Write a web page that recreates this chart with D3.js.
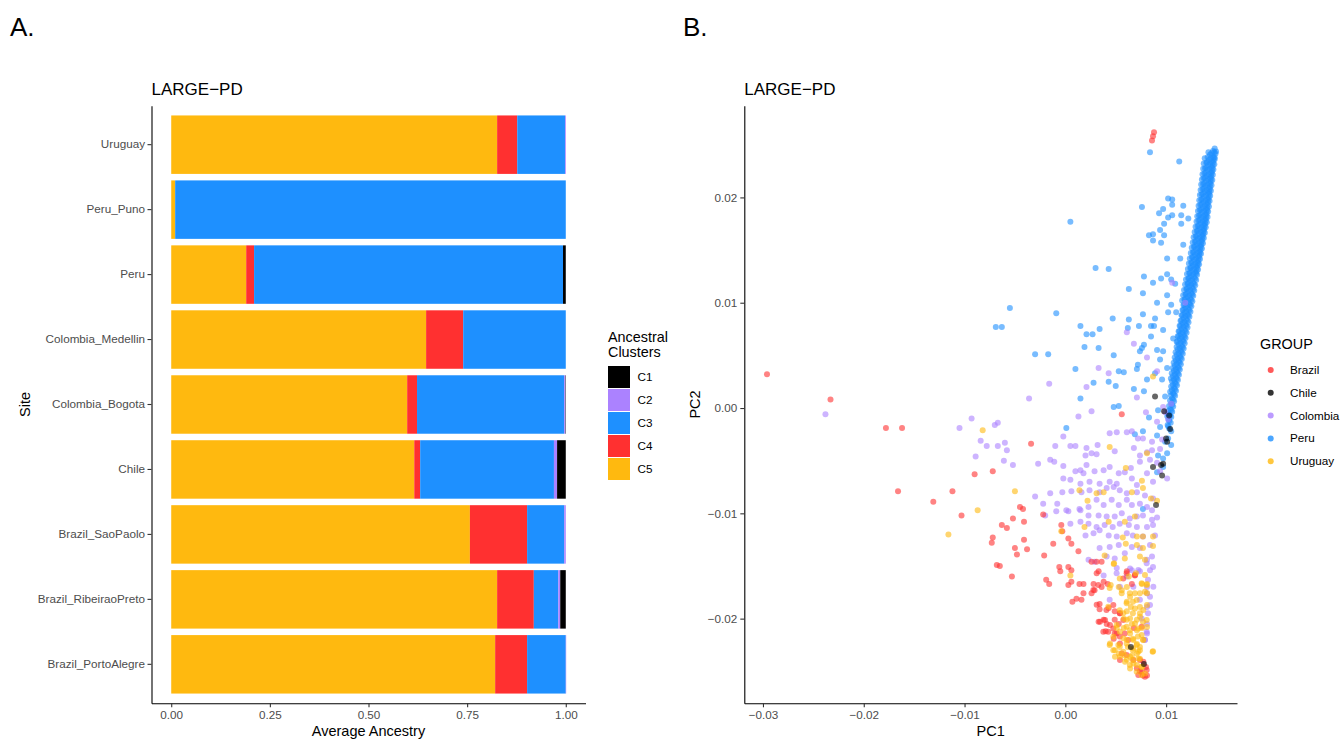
<!DOCTYPE html>
<html>
<head>
<meta charset="utf-8">
<script src="https://cdn.jsdelivr.net/npm/d3@7"></script>
<style>
  body { margin: 0; background: #fff; }
  text { font-family: "Liberation Sans", Arial, Helvetica, sans-serif; }
</style>
</head>
<body>
<script>
// ---- panel A data: average ancestry per site ----
const sites = ["Uruguay", "Peru_Puno", "Peru", "Colombia_Medellin", "Colombia_Bogota",
  "Chile", "Brazil_SaoPaolo", "Brazil_RibeiraoPreto", "Brazil_PortoAlegre"];
const clusterKeys = ["C1", "C2", "C3", "C4", "C5"];
const clusterColors = ["#000000", "#AB82FF", "#1E90FF", "#FF3030", "#FFB90F"];
const c1 = [0, 0, 0.007, 0, 0.001, 0.022, 0, 0.014, 0];
const c2 = [0.002, 0, 0, 0, 0.003, 0.008, 0.004, 0.005, 0.001];
const c3 = [0.121, 0.99, 0.783, 0.26, 0.373, 0.339, 0.094, 0.062, 0.098];
const c4 = [0.051, 0, 0.02, 0.094, 0.025, 0.015, 0.145, 0.093, 0.081];
const c5 = [0.826, 0.01, 0.19, 0.646, 0.598, 0.616, 0.757, 0.826, 0.821];
const ancestryTicks = [0, 0.25, 0.5, 0.75, 1];

// ---- panel B data: PCA coordinates ----
const groups = ["Brazil", "Chile", "Colombia", "Peru", "Uruguay"];
const groupColors = ["#FF3030", "#000000", "#AB82FF", "#1E90FF", "#FFB90F"];
const pc1Ticks = [-0.03, -0.02, -0.01, 0, 0.01];
const pc2Ticks = [-0.02, -0.01, 0, 0.01, 0.02];
const pc1Range = [-0.02963, 0.01481];
const pc2Range = [-0.02546, 0.02613];

const brazil = [[-0.0296,0.0032],[-0.0233,0.0008],[-0.0178,-0.0019],[-0.0162,-0.0019],[-0.0166,-0.0079],[-0.0131,-0.0089],
[-0.0112,-0.0079],[-0.0103,-0.0102],[-0.0090,-0.0063],[-0.0072,-0.0060],[-0.0072,-0.0123],[-0.0073,-0.0128],[-0.0063,-0.0111],
[-0.0058,-0.0114],[-0.0068,-0.0149],[-0.0065,-0.0150],[0.0088,0.0262],[0.0086,0.0254],[0.0087,0.0258],[0.0056,-0.0006],
[-0.0034,-0.0034],[-0.0045,-0.0094],[-0.0042,-0.0096],[-0.0052,-0.0105],[-0.0041,-0.0108],[-0.0022,-0.0101],[-0.0004,-0.0111],
[-0.0003,-0.0117],[0.0003,-0.0124],[0.0006,-0.0129],[-0.0012,-0.0129],[0.0013,-0.0136],[-0.0041,-0.0125],[-0.0050,-0.0133],
[-0.0048,-0.0139],[-0.0038,-0.0134],[-0.0021,-0.0140],[-0.0006,-0.0151],[0.0003,-0.0151],[-0.0005,-0.0155],[0.0006,-0.0154],
[-0.0019,-0.0163],[-0.0016,-0.0167],[-0.0053,-0.0160],[0.0003,-0.0168],[0.0006,-0.0165],[0.0014,-0.0167],[0.0018,-0.0167],
[0.0026,-0.0146],[0.0031,-0.0146],[0.0033,-0.0155],[0.0038,-0.0165],[0.0028,-0.0167],[0.0029,-0.0173],[0.0036,-0.0170],
[0.0042,-0.0167],[0.0026,-0.0176],[0.0018,-0.0176],[0.0011,-0.0181],[0.0007,-0.0184],[0.0016,-0.0182],[0.0034,-0.0186],
[0.0043,-0.0190],[0.0049,-0.0193],[0.0054,-0.0195],[0.0033,-0.0203],[0.0038,-0.0201],[0.0041,-0.0205],[0.0040,-0.0212],
[0.0049,-0.0201],[0.0049,-0.0214],[0.0054,-0.0217],[0.0048,-0.0219],[0.0059,-0.0214],[0.0069,-0.0159],[0.0066,-0.0167],
[0.0061,-0.0155],[0.0068,-0.0209],[0.0080,-0.0246],[0.0077,-0.0254],[0.0074,-0.0250],[0.0081,-0.0254],[0.0071,-0.0247],
[0.0053,-0.0205],[0.0034,-0.0191],[0.0056,-0.0233],
[.00311,-.01570],[.00327,-.01681],[.00278,-.01728],[.00311,-.01868],[.00408,-.01919],[.00476,-.01871],[.00542,-.01950],
[.00344,-.02029],[.00394,-.02014],[.00443,-.02061],[.00377,-.02124],[.00426,-.02124],[.00476,-.02093],[.00509,-.02140],
[.00575,-.02014],[.00625,-.02203],[.00542,-.02235],[.00542,-.02393],[.00608,-.02346],[.00741,-.02393],[.00774,-.02409],
[.00807,-.02488],[.00757,-.02504],[.00790,-.02552],[.00724,-.02536],[.00675,-.02393],[.00360,-.01460],[.00608,-.01570],
[.00691,-.01586],[.00575,-.01618],[.00757,-.02077]];

const chile = [[0.0089,0.0011],[0.0098,-0.0003],[0.0103,-0.0007],[0.0104,-0.0020],[0.0100,-0.0029],[0.0101,-0.0032],
[0.0095,-0.0054],[0.0096,-0.0064],[0.0087,-0.0056],[0.0090,-0.0092],[0.0065,-0.0227],[0.0078,-0.0243],[0.0097,-0.0053]];

const colombia = [[-0.0238,-0.0006],[-0.0105,-0.0019],[-0.0093,-0.0010],[-0.0070,-0.0016],[-0.0067,-0.0014],[-0.0084,-0.0031],
[-0.0078,-0.0036],[-0.0067,-0.0036],[-0.0060,-0.0033],[-0.0058,-0.0040],[-0.0089,-0.0046],[-0.0061,-0.0050],
[0.0061,0.0072],[0.0068,0.0061],[0.0081,0.0048],[0.0033,0.0038],[0.0091,0.0035],[0.0043,0.0033],[0.0021,0.0020],
[-0.0016,0.0023],[-0.0036,0.0009],[0.0071,0.0010],[0.0080,-0.0004],[0.0013,-0.0008],[0.0026,-0.0003],[-0.0002,-0.0027],
[0.0044,-0.0024],[0.0051,-0.0023],[0.0061,-0.0023],[0.0066,-0.0022],[-0.0010,-0.0036],[0.0005,-0.0036],[0.0010,-0.0036],
[0.0021,-0.0038],[0.0032,-0.0035],[0.0072,-0.0029],[0.0068,-0.0038],[0.0077,-0.0029],[0.0086,-0.0032],[0.0096,-0.0030],
[0.0020,-0.0045],[0.0026,-0.0043],[0.0031,-0.0044],[0.0074,-0.0045],[0.0091,-0.0013],[0.0099,-0.0004],[0.0105,0.0004],
[0.0102,-0.0011],[0.0097,0.0001],[0.0106,0.0119],[0.0119,0.0100],[0.0049,-0.0041],[0.0081,-0.0042],[0.0086,-0.0040],
[0.0094,-0.0039],[-0.0052,-0.0054],[-0.0027,-0.0053],[-0.0015,-0.0049],[-0.0011,-0.0051],[-0.0002,-0.0055],[0.0010,-0.0060],
[0.0015,-0.0059],[0.0018,-0.0062],[0.0021,-0.0054],[0.0029,-0.0060],[0.0038,-0.0059],[0.0044,-0.0056],[0.0053,-0.0062],
[0.0059,-0.0061],[0.0065,-0.0057],[0.0074,-0.0051],[0.0084,-0.0049],[0.0091,-0.0052],[0.0094,-0.0060],[0.0101,-0.0067],
[-0.0002,-0.0067],[0.0005,-0.0068],[0.0015,-0.0072],[0.0024,-0.0070],[0.0034,-0.0072],[0.0044,-0.0070],[0.0051,-0.0072],
[0.0066,-0.0067],[0.0071,-0.0073],[0.0081,-0.0062],[0.0087,-0.0070],[-0.0030,-0.0084],[-0.0015,-0.0081],[-0.0003,-0.0080],
[0.0006,-0.0079],[0.0016,-0.0080],[0.0024,-0.0078],[0.0034,-0.0080],[0.0041,-0.0076],[0.0048,-0.0075],[0.0054,-0.0078],
[0.0061,-0.0081],[0.0071,-0.0080],[0.0079,-0.0083],[0.0087,-0.0086],[-0.0022,-0.0091],[-0.0008,-0.0091],[0.0001,-0.0097],
[0.0015,-0.0097],[0.0023,-0.0094],[0.0031,-0.0087],[0.0038,-0.0092],[0.0046,-0.0087],[0.0053,-0.0092],[0.0061,-0.0087],
[0.0066,-0.0092],[0.0074,-0.0091],[0.0081,-0.0094],[0.0086,-0.0097],[-0.0020,-0.0102],[-0.0009,-0.0098],[0.0003,-0.0098],
[0.0014,-0.0096],[0.0023,-0.0102],[0.0033,-0.0102],[0.0041,-0.0103],[0.0049,-0.0103],[0.0056,-0.0100],[0.0064,-0.0105],
[0.0071,-0.0103],[0.0077,-0.0102],[0.0086,-0.0106],[0.0091,-0.0104],[0.0005,-0.0110],[0.0015,-0.0108],[0.0023,-0.0110],
[0.0031,-0.0113],[0.0039,-0.0111],[0.0047,-0.0113],[0.0054,-0.0110],[0.0063,-0.0111],[0.0071,-0.0113],[0.0081,-0.0113],
[0.0087,-0.0111],[0.0020,-0.0121],[0.0028,-0.0119],[0.0034,-0.0116],[0.0043,-0.0121],[0.0051,-0.0122],[0.0061,-0.0119],
[0.0067,-0.0121],[0.0077,-0.0122],[0.0089,-0.0121],[0.0034,-0.0133],[0.0044,-0.0132],[0.0053,-0.0130],[0.0066,-0.0132],
[0.0074,-0.0133],[0.0084,-0.0130],[0.0081,-0.0144],[0.0086,-0.0141],[0.0087,-0.0151],[0.0023,-0.0144],[0.0029,-0.0146],
[0.0041,-0.0141],[0.0059,-0.0138],[0.0049,-0.0143],[0.0066,-0.0154],[0.0074,-0.0155],[0.0084,-0.0154],[0.0038,-0.0159],
[0.0051,-0.0152],[0.0082,-0.0163],[0.0081,-0.0170],[0.0081,-0.0176],[0.0074,-0.0182],[0.0044,-0.0182],[0.0061,-0.0160],
[0.0081,-0.0214],[0.0081,-0.0205],[0.0082,-0.0195],[0.0081,-0.0189],[0.0079,-0.0220],
[.00873,-.01697],[.00840,-.01792],[.00840,-.01871],[.00807,-.02124],[.00790,-.02203],[.00724,-.01539],[.00642,-.01523],
[.00807,-.01475],[.00509,-.01570],[.00542,-.01697],[.00675,-.01697],[.00757,-.01998]];

const peru = [[-0.0069,0.0077],[-0.0063,0.0077],[-0.0055,0.0095],[0.0084,0.0243],[0.0113,0.0234],[0.0076,0.0191],
[0.0102,0.0199],[0.0106,0.0198],[0.0106,0.0193],[0.0117,0.0192],[0.0097,0.0189],[0.0093,0.0185],[0.0102,0.0181],
[0.0106,0.0183],[0.0115,0.0183],[0.0122,0.0180],[0.0098,0.0175],[0.0115,0.0175],[0.0094,0.0169],[0.0083,0.0164],
[0.0087,0.0165],[0.0098,0.0164],[0.0087,0.0159],[0.0095,0.0157],[0.0117,0.0155],[0.0101,0.0142],[0.0114,0.0142],
[0.0005,0.0177],[0.0030,0.0133],[0.0043,0.0132],[0.0078,0.0125],[0.0087,0.0119],[0.0095,0.0123],[0.0101,0.0127],
[0.0105,0.0122],[0.0109,0.0118],[0.0063,0.0113],[0.0077,0.0109],[0.0091,0.0100],[0.0101,0.0107],[0.0105,0.0098],
[0.0102,0.0091],[0.0110,0.0091],[-0.0009,0.0090],[0.0047,0.0085],[0.0063,0.0084],[0.0077,0.0089],[0.0089,0.0085],
[0.0085,0.0078],[0.0073,0.0078],[0.0062,0.0076],[0.0015,0.0078],[0.0021,0.0070],[0.0027,0.0070],[0.0034,0.0075],
[0.0097,0.0074],[0.0107,0.0066],[0.0088,0.0078],[0.0085,0.0068],[0.0078,0.0060],[0.0076,0.0057],[0.0074,0.0054],
[0.0091,0.0055],[0.0097,0.0054],[0.0019,0.0058],[0.0033,0.0057],[0.0048,0.0050],[0.0094,0.0046],[-0.0030,0.0051],
[-0.0017,0.0051],[0.0010,0.0037],[0.0053,0.0035],[0.0058,0.0034],[0.0071,0.0037],[0.0072,0.0041],[0.0089,0.0033],
[0.0101,0.0038],[0.0096,0.0027],[0.0043,0.0025],[0.0050,0.0021],[0.0081,0.0027],[0.0068,0.0018],[0.0028,0.0024],
[0.0015,0.0009],[0.0048,0.0001],[0.0053,0.0002],[0.0099,0.0011],[0.0078,0.0016],[0.0001,-0.0019],[0.0069,-0.0025],
[0.0083,-0.0009],[0.0092,-0.0002],[0.0091,-0.0026],[0.0102,-0.0006],[0.0105,-0.0035],[0.0101,-0.0043],[0.0092,-0.0045],
[0.0077,-0.0022],[0.0094,-0.0018],[0.0099,-0.0032],[0.0102,-0.0029],[0.0105,-0.0022],[0.0097,-0.0056],[0.0091,-0.0061],
[0.0077,-0.0096],[0.0097,-0.0048],
// dense ridge
[.01482,.02465],[.01465,.02440],[.01495,.02435],[.01490,.02415],[.01462,.02390],[.01435,.02405],[.01480,.02380],
[.01483,.02365],[.01452,.02340],[.01423,.02355],[.01398,.02330],[.01470,.02350],[.01478,.02315],[.01448,.02292],
[.01417,.02305],[.01386,.02278],[.01462,.02300],[.01469,.02265],[.01441,.02240],[.01408,.02257],[.01379,.02230],
[.01456,.02248],[.01463,.02215],[.01434,.02188],[.01402,.02205],[.01372,.02182],[.01447,.02200],[.01458,.02165],
[.01426,.02140],[.01396,.02157],[.01366,.02128],[.01442,.02150],[.01450,.02115],[.01421,.02092],[.01388,.02105],
[.01360,.02081],[.01435,.02099],[.01444,.02064],[.01413,.02041],[.01383,.02056],[.01352,.02030],[.01428,.02051],
[.01437,.02015],[.01408,.01988],[.01375,.02006],[.01347,.01979],[.01423,.02000],[.01431,.01966],[.01400,.01941],
[.01369,.01954],[.01339,.01931],[.01415,.01949],[.01425,.01914],[.01394,.01892],[.01364,.01905],[.01333,.01880],
[.01408,.01899],[.01417,.01866],[.01388,.01840],[.01355,.01856],[.01326,.01829],[.01402,.01850],[.01411,.01814],
[.01380,.01791],[.01349,.01806],[.01320,.01781],[.01395,.01800],[.01403,.01765],[.01371,.01741],[.01342,.01754],
[.01312,.01729],[.01386,.01751],[.01393,.01716],[.01364,.01690],[.01331,.01706],[.01304,.01681],[.01377,.01700],
[.01384,.01664],[.01353,.01641],[.01323,.01655],[.01293,.01631],[.01368,.01651],[.01374,.01615],[.01345,.01589],
[.01314,.01606],[.01285,.01579],[.01359,.01600],[.01365,.01565],[.01334,.01541],[.01304,.01554],[.01275,.01531],
[.01349,.01550],[.01355,.01516],[.01326,.01489],[.01295,.01506],[.01266,.01480],[.01340,.01500],[.01346,.01465],
[.01315,.01441],[.01286,.01454],[.01256,.01431],[.01330,.01451],[.01336,.01415],[.01307,.01390],[.01276,.01406],
[.01248,.01379],[.01321,.01400],[.01327,.01366],[.01296,.01341],[.01266,.01354],[.01239,.01330],[.01311,.01350],
[.01317,.01315],[.01288,.01289],[.01257,.01306],[.01229,.01281],[.01302,.01300],[.01307,.01265],[.01277,.01241],
[.01247,.01254],[.01219,.01229],[.01298,.01216],[.01268,.01190],[.01238,.01206],[.01211,.01180],[.01289,.01165],
[.01258,.01141],[.01228,.01154],[.01200,.01131],[.01279,.01115],[.01250,.01090],[.01219,.01106],[.01191,.01079],
[.01269,.01066],[.01239,.01040],[.01210,.01054],[.01181,.01031],[.01260,.01015],[.01231,.00991],[.01200,.01005],
[.01172,.00979],[.01250,.00966],[.01220,.00940],[.01191,.00954],[.01162,.00931],[.01241,.00915],[.01212,.00889],
[.01181,.00905],[.01153,.00880],[.01231,.00866],[.01201,.00841],[.01172,.00854],[.01143,.00829],[.01222,.00815],
[.01193,.00790],[.01162,.00806],[.01134,.00781],[.01212,.00765],[.01182,.00741],[.01153,.00754],[.01124,.00729],
[.01203,.00716],[.01174,.00690],[.01143,.00704],[.01115,.00681],[.01193,.00665],[.01163,.00641],[.01134,.00655],
[.01105,.00630],[.01184,.00616],[.01155,.00590],[.01124,.00604],[.01174,.00565],[.01144,.00541],[.01115,.00555],
[.01165,.00516],[.01136,.00489],[.01105,.00506],[.01155,.00465],[.01125,.00441],[.01096,.00454],[.01146,.00416],
[.01117,.00390],[.01086,.00404],[.01136,.00365],[.01106,.00341],[.01077,.00354],[.01127,.00316],[.01098,.00290],
[.01067,.00304],[.01117,.00265],[.01087,.00241],[.01058,.00254],[.01108,.00216],[.01079,.00190],[.01050,.00204],
[.01098,.00165],[.01068,.00141],[.01040,.00154],[.01089,.00116],[.01059,.00090],[.01079,.00065],[.01051,.00041],
[.01070,.00015],[.01041,-.00010],[.01060,-.00035],[.01031,-.00060],[.01051,-.00085],[.01025,-.00110],[.01045,-.00140],
[.01015,-.00160],[.01030,-.00195],
[.01478,.02428],[.01449,.02420],[.01420,.02430],[.01470,.02379],[.01441,.02370],[.01412,.02382],[.01383,.02372],
[.01465,.02329],[.01434,.02320],[.01405,.02331],[.01373,.02323],[.01458,.02278],[.01429,.02271],[.01398,.02280],
[.01368,.02272],[.01451,.02229],[.01421,.02220],[.01391,.02230],[.01361,.02221],[.01445,.02178],[.01415,.02172],
[.01385,.02180],[.01355,.02171],[.01438,.02129],[.01408,.02120],[.01378,.02130],[.01348,.02122],[.01432,.02078],
[.01402,.02071],[.01372,.02080],[.01342,.02071],[.01425,.02029],[.01395,.02020],[.01365,.02030],[.01335,.02022],
[.01419,.01978],[.01389,.01971],[.01359,.01980],[.01329,.01972],[.01412,.01929],[.01382,.01920],[.01352,.01930],
[.01322,.01921],[.01406,.01878],[.01376,.01871],[.01346,.01880],[.01316,.01872],[.01399,.01829],[.01369,.01820],
[.01339,.01830],[.01309,.01821],[.01392,.01778],[.01362,.01771],[.01332,.01780],[.01302,.01772],[.01382,.01729],
[.01352,.01720],[.01322,.01730],[.01292,.01721],[.01373,.01678],[.01343,.01671],[.01313,.01680],[.01283,.01672],
[.01363,.01629],[.01333,.01620],[.01303,.01630],[.01273,.01621],[.01354,.01578],[.01324,.01571],[.01294,.01580],
[.01264,.01572],[.01344,.01529],[.01314,.01520],[.01284,.01530],[.01254,.01521],[.01335,.01478],[.01305,.01471],
[.01275,.01480],[.01245,.01472],[.01325,.01429],[.01295,.01420],[.01265,.01430],[.01235,.01421],[.01316,.01378],
[.01286,.01371],[.01256,.01380],[.01226,.01372],[.01306,.01329],[.01276,.01320],[.01246,.01330],[.01216,.01321],
[.01297,.01278],[.01267,.01271],[.01237,.01280],[.01207,.01272],[.01287,.01229],[.01257,.01220],[.01227,.01230],
[.01197,.01221],[.01278,.01178],[.01248,.01171],[.01218,.01180],[.01188,.01172],[.01268,.01129],[.01238,.01120],
[.01208,.01130],[.01178,.01121],[.01259,.01078],[.01229,.01071],[.01199,.01080],[.01169,.01072],[.01249,.01029],
[.01219,.01020],[.01189,.01030],[.01159,.01021],[.01240,.00978],[.01210,.00971],[.01180,.00980],[.01230,.00929],
[.01200,.00920],[.01170,.00930],[.01221,.00878],[.01191,.00871],[.01161,.00880],[.01211,.00829],[.01181,.00820],
[.01151,.00830],[.01202,.00778],[.01172,.00771],[.01142,.00780],[.01192,.00729],[.01162,.00720],[.01132,.00730],
[.01183,.00678],[.01153,.00671],[.01123,.00680],[.01173,.00629],[.01143,.00620],[.01113,.00630],[.01164,.00578],
[.01134,.00571],[.01104,.00580],[.01154,.00529],[.01124,.00520],[.01094,.00530],[.01145,.00478],[.01115,.00471],
[.01085,.00480],[.01135,.00429],[.01105,.00420],[.01075,.00430],[.01126,.00378],[.01096,.00371],[.01066,.00380],
[.01116,.00329],[.01086,.00320],[.01056,.00330],[.01107,.00278],[.01077,.00271],[.01047,.00280],[.01097,.00229],
[.01067,.00220],[.01088,.00178],[.01058,.00171],[.01078,.00129],[.01048,.00120],[.01069,.00078],[.01039,.00071],
[.01059,.00029],[.01029,.00020],[.01050,-.00022],[.01020,-.00029],[.01040,-.00072],[.01012,-.00079],[.01031,-.00122],
[.01021,-.00172]];

const uruguay = [[-0.0082,-0.0021],[-0.0087,-0.0097],[-0.0116,-0.0120],[0.0087,0.0030],[0.0044,-0.0037],[0.0081,-0.0043],
[0.0060,-0.0057],[-0.0050,-0.0079],[0.0014,-0.0078],[0.0022,-0.0088],[0.0038,-0.0080],[0.0031,-0.0081],[0.0066,-0.0080],
[0.0076,-0.0069],[0.0077,-0.0076],[0.0085,-0.0086],[0.0091,-0.0088],[0.0087,-0.0122],[-0.0004,-0.0117],[0.0019,-0.0113],
[0.0043,-0.0108],[0.0059,-0.0108],[0.0069,-0.0103],[0.0071,-0.0122],[0.0077,-0.0122],[0.0057,-0.0123],[0.0060,-0.0129],
[0.0071,-0.0130],[0.0077,-0.0133],[0.0087,-0.0131],[0.0039,-0.0140],[0.0048,-0.0148],[0.0059,-0.0143],[0.0074,-0.0141],
[0.0079,-0.0144],[0.0054,-0.0162],[0.0063,-0.0160],[0.0070,-0.0157],[0.0076,-0.0167],[0.0081,-0.0167],[0.0005,-0.0159],
[0.0044,-0.0171],[0.0053,-0.0170],[0.0061,-0.0170],[0.0064,-0.0176],[0.0069,-0.0176],[0.0074,-0.0176],[0.0081,-0.0176],
[0.0061,-0.0184],[0.0067,-0.0184],[0.0074,-0.0189],[0.0081,-0.0187],[0.0054,-0.0192],[0.0061,-0.0193],[0.0067,-0.0195],
[0.0074,-0.0195],[0.0061,-0.0201],[0.0066,-0.0205],[0.0071,-0.0201],[0.0077,-0.0203],[0.0051,-0.0209],[0.0058,-0.0209],
[0.0064,-0.0211],[0.0071,-0.0211],[0.0076,-0.0209],[0.0044,-0.0225],[0.0049,-0.0230],[0.0054,-0.0227],[0.0061,-0.0220],
[0.0067,-0.0219],[0.0072,-0.0217],[0.0077,-0.0220],[0.0053,-0.0233],[0.0059,-0.0235],[0.0066,-0.0235],[0.0071,-0.0233],
[0.0074,-0.0230],[0.0061,-0.0239],[0.0067,-0.0239],[0.0074,-0.0238],[0.0064,-0.0244],[0.0071,-0.0244],[0.0076,-0.0246],
[0.0087,-0.0231],[0.0071,-0.0224],[0.0074,-0.0227],[0.0056,-0.0173],[0.0065,-0.0189],[0.0058,-0.0200],[0.0067,-0.0230],
[0.0062,-0.0227],[0.0081,-0.0208],
[.00483,-.01475],[.00790,-.01586],[.00807,-.01681],[.00757,-.01665],[.00450,-.01681],[.00559,-.01760],[.00642,-.01792],
[.00708,-.01824],[.00608,-.01855],[.00691,-.01903],[.00774,-.01919],[.00575,-.01950],[.00741,-.01982],[.00642,-.01998],
[.00807,-.02014],[.00509,-.02061],[.00691,-.02045],[.00608,-.02077],[.00724,-.02093],[.00542,-.02124],[.00642,-.02140],
[.00757,-.02156],[.00476,-.02172],[.00575,-.02187],[.00675,-.02203],[.00443,-.02235],[.00526,-.02251],[.00708,-.02251],
[.00774,-.02203],[.00476,-.02299],[.00575,-.02314],[.00724,-.02314],[.00542,-.02362],[.00642,-.02362],[.00724,-.02378],
[.00592,-.02409],[.00675,-.02425],[.00757,-.02457],[.00642,-.02473],[.00708,-.02504],[.00790,-.02520],[.00757,-.02536],
[.00866,-.02314],[.00493,-.02362],[.00675,-.02283],[.00608,-.02235],[.00790,-.01744],[.00426,-.01887]];

const groupPoints = { Brazil: brazil, Chile: chile, Colombia: colombia, Peru: peru, Uruguay: uruguay };
const drawOrder = ["Peru", "Colombia", "Brazil", "Uruguay", "Chile"];

const W = 1341, H = 740;
const FONT = '"Liberation Sans", Arial, Helvetica, sans-serif';
const svg = d3.select("body").append("svg").attr("width", W).attr("height", H);
svg.append("rect").attr("width", W).attr("height", H).attr("fill", "#fff");

function styleAxis(g) {
  g.attr("font-family", FONT).attr("font-size", 11.7);
  g.select(".domain").attr("stroke", "#000").attr("stroke-width", 1.1);
  g.selectAll(".tick line").attr("stroke", "#333").attr("stroke-width", 1.1);
  g.selectAll(".tick text").attr("fill", "#4D4D4D");
}

// ================= Panel A =================
const pa = { left: 151.5, right: 585.5, top: 105.7, bottom: 703.3 };
const xA = d3.scaleLinear().domain([-0.05, 1.05]).range([pa.left, pa.right]);
const yA = d3.scaleBand().domain(sites).range([pa.top, pa.bottom]).paddingInner(0.1).paddingOuter(0.15);
const clusterColor = d3.scaleOrdinal().domain(clusterKeys).range(clusterColors);

const rows = sites.map((s, i) => ({ site: s, C1: c1[i], C2: c2[i], C3: c3[i], C4: c4[i], C5: c5[i] }));
const stacked = d3.stack().keys(["C5", "C4", "C3", "C2", "C1"])(rows);

const gA = svg.append("g");
gA.selectAll("g.layer").data(stacked).join("g")
  .attr("fill", d => clusterColor(d.key))
  .selectAll("rect").data(d => d).join("rect")
  .attr("x", d => xA(d[0]))
  .attr("width", d => Math.max(0, xA(d[1]) - xA(d[0])))
  .attr("y", d => yA(d.data.site))
  .attr("height", yA.bandwidth());

gA.append("g").attr("transform", `translate(${pa.left},0)`)
  .call(d3.axisLeft(yA).tickSize(4).tickSizeOuter(0).tickPadding(2.5))
  .call(styleAxis);
gA.append("g").attr("transform", `translate(0,${pa.bottom})`)
  .call(d3.axisBottom(xA).tickValues(ancestryTicks).tickFormat(d3.format(".2f")).tickSize(4).tickSizeOuter(0).tickPadding(3))
  .call(styleAxis);

svg.append("text").attr("x", 10).attr("y", 36).attr("font-size", 26).text("A.");
gA.append("text").attr("x", pa.left).attr("y", 95).attr("font-size", 17).text("LARGE\u2212PD");
gA.append("text").attr("x", (pa.left + pa.right) / 2).attr("y", 736).attr("text-anchor", "middle")
  .attr("font-size", 14.5).text("Average Ancestry");
gA.append("text").attr("transform", `translate(29.5,${(pa.top + pa.bottom) / 2}) rotate(-90)`)
  .attr("text-anchor", "middle").attr("font-size", 14.5).text("Site");

// legend A
const legA = svg.append("g").attr("transform", "translate(608,0)");
legA.append("text").attr("y", 341.5).attr("font-size", 14.4).text("Ancestral");
legA.append("text").attr("y", 357).attr("font-size", 14.4).text("Clusters");
clusterKeys.forEach((k, i) => {
  legA.append("rect").attr("x", 0).attr("y", 366 + i * 23).attr("width", 22).attr("height", 22).attr("fill", clusterColor(k));
  legA.append("text").attr("x", 29.5).attr("y", 377 + i * 23).attr("dy", "0.35em").attr("font-size", 11.7).text(k);
});

// ================= Panel B =================
const pb = { left: 744.3, right: 1237, top: 105.7, bottom: 703.3 };
const expand = r => { const s = r[1] - r[0]; return [r[0] - 0.05 * s, r[1] + 0.05 * s]; };
const xB = d3.scaleLinear().domain(expand(pc1Range)).range([pb.left, pb.right]);
const yB = d3.scaleLinear().domain(expand(pc2Range)).range([pb.bottom, pb.top]);
const groupColor = d3.scaleOrdinal().domain(groups).range(groupColors);

const gB = svg.append("g");
drawOrder.forEach(grp => {
  gB.append("g").attr("fill", groupColor(grp)).attr("fill-opacity", 0.6)
    .selectAll("circle").data(groupPoints[grp]).join("circle")
    .attr("cx", d => xB(d[0])).attr("cy", d => yB(d[1])).attr("r", 3);
});

gB.append("g").attr("transform", `translate(${pb.left},0)`)
  .call(d3.axisLeft(yB).tickValues(pc2Ticks).tickFormat(d3.format(".2f")).tickSize(4).tickSizeOuter(0).tickPadding(3))
  .call(styleAxis);
gB.append("g").attr("transform", `translate(0,${pb.bottom})`)
  .call(d3.axisBottom(xB).tickValues(pc1Ticks).tickFormat(d3.format(".2f")).tickSize(4).tickSizeOuter(0).tickPadding(3))
  .call(styleAxis);

svg.append("text").attr("x", 683).attr("y", 36).attr("font-size", 26).text("B.");
gB.append("text").attr("x", pb.left).attr("y", 95).attr("font-size", 17).text("LARGE\u2212PD");
gB.append("text").attr("x", (pb.left + pb.right) / 2).attr("y", 736).attr("text-anchor", "middle")
  .attr("font-size", 14.5).text("PC1");
gB.append("text").attr("transform", `translate(700,${(pb.top + pb.bottom) / 2}) rotate(-90)`)
  .attr("text-anchor", "middle").attr("font-size", 14.5).text("PC2");

// legend B
const legB = svg.append("g").attr("transform", "translate(1260,0)");
legB.append("text").attr("y", 349).attr("font-size", 14.4).text("GROUP");
groups.forEach((g, i) => {
  legB.append("circle").attr("cx", 10.7).attr("cy", 370 + i * 22.8).attr("r", 3)
    .attr("fill", groupColor(g)).attr("fill-opacity", 0.8);
  legB.append("text").attr("x", 30).attr("y", 370 + i * 22.8).attr("dy", "0.35em").attr("font-size", 11.7).text(g);
});
</script>
</body>
</html>
